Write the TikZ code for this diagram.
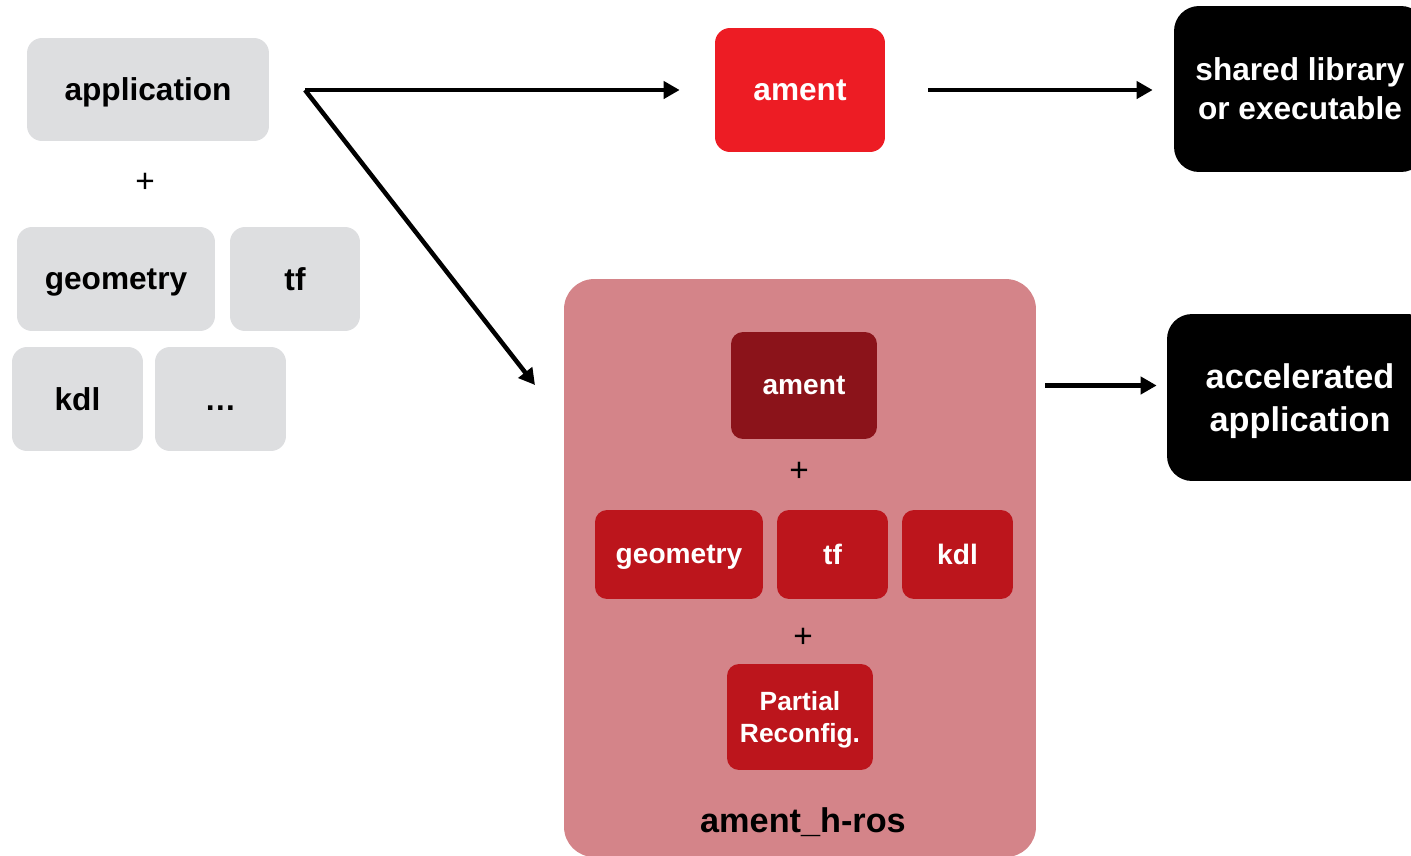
\documentclass[tikz,border=0pt]{standalone}
\usepackage{fontspec}
\setmainfont{Liberation Sans}
\usepackage{tikz}
\usetikzlibrary{arrows.meta, positioning, calc}
\definecolor{pkgcolor}{RGB}{221, 222, 224}
\definecolor{amentcolor}{RGB}{237, 28, 36}
\definecolor{hroscolor}{RGB}{212, 132, 137}
\definecolor{hamentcolor}{RGB}{139, 19, 26}
\definecolor{hpkgcolor}{RGB}{188, 21, 28}

\begin{document}
\begin{tikzpicture}[
    x=0.02cm, y=-0.02cm,
    every node/.style={text depth=0pt},
    pkg/.style={fill=pkgcolor, rounded corners=0.3cm, inner sep=0pt, minimum height=2.08cm, font=\fontsize{18}{21}\selectfont\bfseries},
    tool/.style={fill=amentcolor, text=white, rounded corners=0.3cm, inner sep=0pt, font=\fontsize{18}{21}\selectfont\bfseries},
    result/.style={fill=black, text=white, rounded corners=0.5cm, inner sep=0pt, align=center},
    hpkg/.style={fill=hpkgcolor, text=white, rounded corners=0.24cm, inner sep=0pt, minimum height=1.78cm, font=\fontsize{16}{18}\selectfont\bfseries},
    plus/.style={inner sep=0pt, font=\fontsize{19}{22}\selectfont},
    flow/.style={-{Triangle[length=0.32cm, width=0.34cm]}, line width=0.09cm}
]
    \useasboundingbox (0,0) rectangle (1411,856);
    \clip (0,0) rectangle (1411,856);

    % Application and its packages - left side
    \node[pkg, minimum width=4.84cm, minimum height=2.06cm] (app) at (148, 89.5) {application};
    \node[plus] (plusA) at (145, 183) {+};
    \node[pkg, minimum width=3.96cm] (geo) at (116, 279) {geometry};
    \node[pkg, minimum width=2.6cm] (tf) at (295, 279) {tf};
    \node[pkg, minimum width=2.62cm] (kdl) at (77.5, 399) {kdl};
    \node[pkg, minimum width=2.62cm] (more) at (220.5, 399) {\vphantom{tf}\dots};

    % Plain build - top
    \node[tool, minimum width=3.4cm, minimum height=2.48cm] (ament) at (800, 90) {ament};
    \node[result, minimum width=5.04cm, minimum height=3.32cm, font=\fontsize{18}{22.2}\selectfont\bfseries] (shared) at (1300, 89) {shared library\\or executable};

    % Accelerated build - bottom
    \node[fill=hroscolor, rounded corners=0.6cm, minimum width=9.44cm, minimum height=11.56cm] (hros) at (800, 568) {};
    \node[hpkg, fill=hamentcolor, minimum width=2.92cm, minimum height=2.14cm] (hament) at (804, 385.5) {ament};
    \node[plus] (plusB) at (799, 472) {+};
    \node[hpkg, minimum width=3.36cm] (hgeo) at (679, 554.5) {geometry};
    \node[hpkg, minimum width=2.22cm] (htf) at (832.5, 554.5) {tf};
    \node[hpkg, minimum width=2.22cm] (hkdl) at (957.5, 554.5) {kdl};
    \node[plus] (plusC) at (803, 638) {+};
    \node[hpkg, minimum width=2.92cm, minimum height=2.12cm, align=center, font=\fontsize{15}{18}\selectfont\bfseries] (partial) at (800, 717) {Partial\\Reconfig.};
    \node[inner sep=0pt, font=\fontsize{19.5}{22}\selectfont\bfseries] (hroslabel) at (803, 820) {ament\_h-ros};
    \node[result, minimum width=5.32cm, minimum height=3.34cm, font=\fontsize{19.5}{24}\selectfont\bfseries] (accel) at (1300, 397.5) {accelerated\\application};

    % Connections
    \coordinate (fork) at (305, 90);
    \coordinate (diagend) at (535, 385);
    \draw[flow, shorten >=0.7cm] (fork) -- (ament);
    \draw[flow] (fork) -- (diagend);
    \draw[flow, shorten <=0.86cm, shorten >=0.42cm] (ament) -- (shared.west |- ament);
    \draw[flow] ([xshift=0.18cm]hros.east |- hament) -- ([xshift=-0.2cm]accel.west |- hament);

\end{tikzpicture}
\end{document}
